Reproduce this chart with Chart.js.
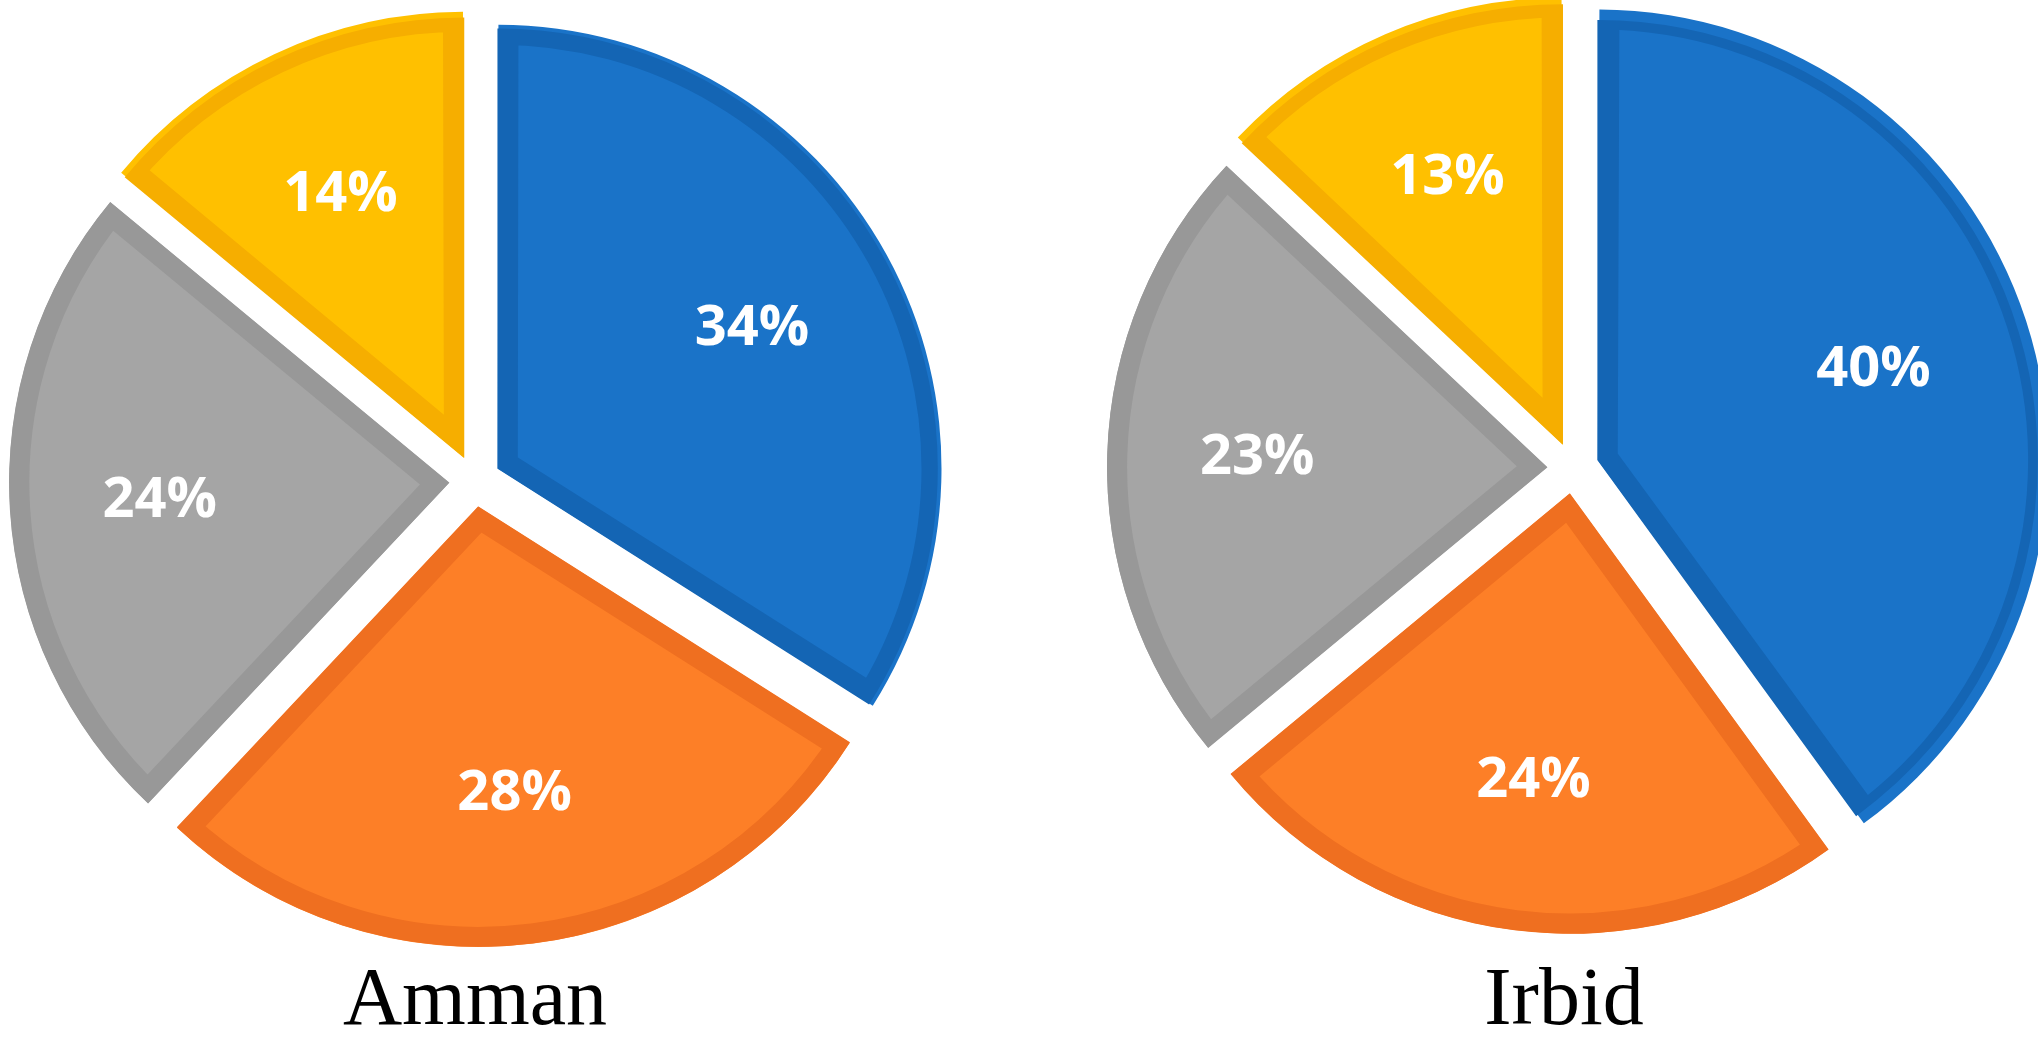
<!DOCTYPE html>
<html><head><meta charset="utf-8">
<script src="https://cdn.jsdelivr.net/npm/chart.js@4"></script>
<style>
html,body{margin:0;padding:0;background:#fff;width:2038px;height:1049px;overflow:hidden;position:relative}
canvas{position:absolute}
.t{position:absolute;font-family:"Liberation Serif",serif;font-size:82px;color:#000;transform:translateX(-50%);line-height:1}
</style></head><body>
<canvas id="c1" width="1000" height="1000" style="left:-25px;top:-19px"></canvas>
<canvas id="c2" width="1000" height="1000" style="left:1073px;top:-32px"></canvas>
<div class="t" style="left:475px;top:956px">Amman</div>
<div class="t" style="left:1564px;top:956px">Irbid</div>
<script>
const categories = ["Blue", "Orange", "Gray", "Yellow"];
const ammanValues = [34, 28, 24, 14];
const irbidValues = [40, 24, 23, 13];
const fills = ["#1a73c8", "#fd7f27", "#a5a5a5", "#ffc000"];
const borders = ["#1465b4", "#ef6f20", "#989898", "#f6ae00"];

const labelPlugin = {
  id: 'sliceLabels',
  afterDatasetsDraw(chart) {
    const ctx = chart.ctx;
    const meta = chart.getDatasetMeta(0);
    const data = chart.data.datasets[0].data;
    const off = chart.data.datasets[0].offset / 2;
    ctx.save();
    ctx.fillStyle = '#fff';
    ctx.font = 'bold 56px "Open Sans", sans-serif';
    ctx.textAlign = 'center';
    ctx.textBaseline = 'middle';
    meta.data.forEach((arc, i) => {
      const mid = (arc.startAngle + arc.endAngle) / 2;
      const r = arc.outerRadius * 0.6 + off;
      ctx.fillText(data[i] + '%', arc.x + Math.cos(mid) * r, arc.y + Math.sin(mid) * r);
    });
    ctx.restore();
  }
};

function makePie(id, values) {
  new Chart(document.getElementById(id), {
    type: 'pie',
    data: { labels: categories, datasets: [{
      data: values, backgroundColor: fills, borderColor: borders,
      borderWidth: 20, borderAlign: 'inner', offset: 104, borderJoinStyle: 'miter'
    }]},
    options: {
      responsive: false, animation: false, devicePixelRatio: 1,
      layout: { padding: 8 },
      plugins: { legend: { display: false }, tooltip: { enabled: false } }
    },
    plugins: [labelPlugin]
  });
}
makePie('c1', ammanValues);
makePie('c2', irbidValues);
</script>
</body></html>
